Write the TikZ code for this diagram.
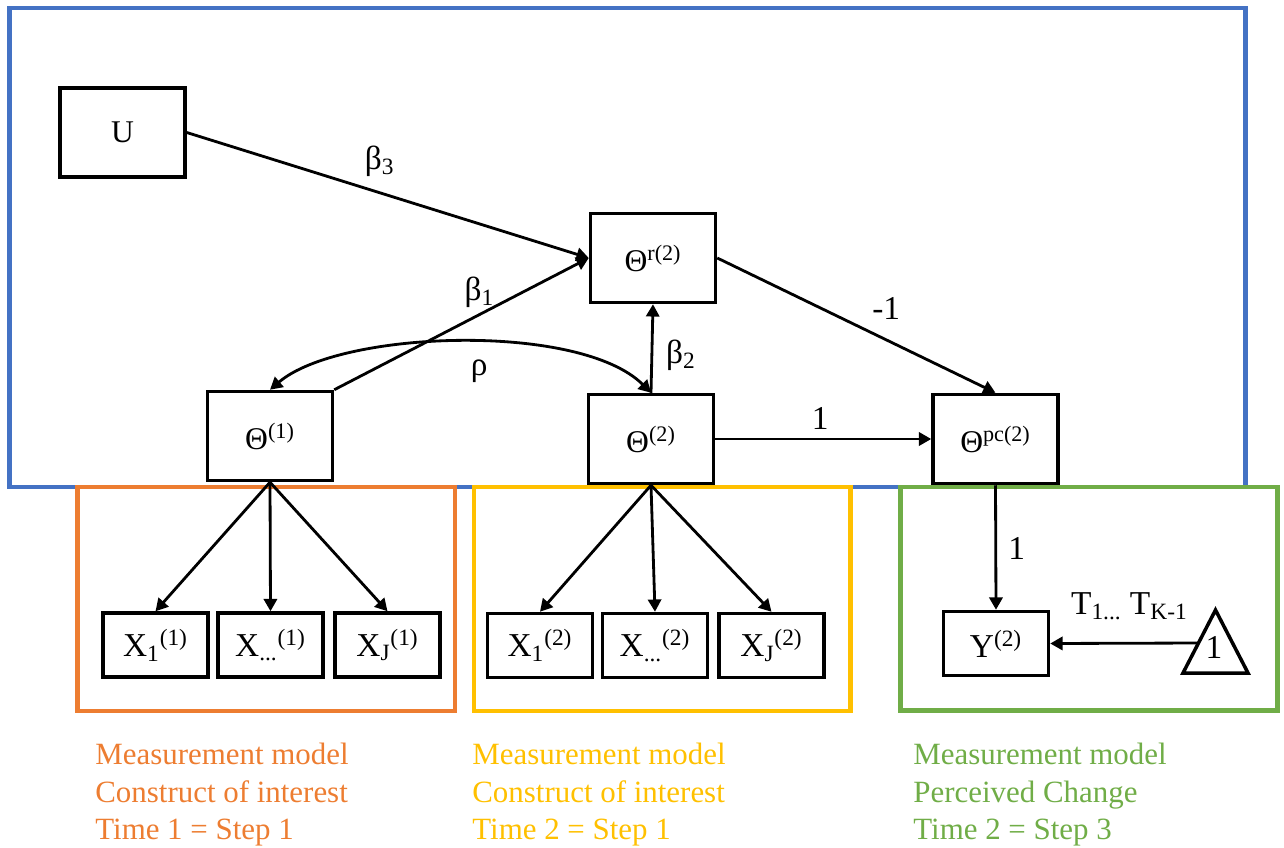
\documentclass[tikz,border=0pt]{standalone}
\usepackage{fontspec}
\setmainfont{Liberation Serif}
\usetikzlibrary{arrows.meta, positioning, calc}
\definecolor{frameblue}{HTML}{4472C4}
\definecolor{timeorange}{HTML}{ED7D31}
\definecolor{timeyellow}{HTML}{FFC000}
\definecolor{changegreen}{HTML}{70AD47}

\begin{document}
\begin{tikzpicture}[x=0.02cm, y=-0.02cm, >={Triangle[length=7pt, width=7.5pt]},
    latent/.style={draw, line width=2pt, minimum width=2.5cm, minimum height=1.78cm, inner sep=0pt, font=\rmfamily\fontsize{18}{21}\selectfont},
    item/.style={draw, line width=2pt, minimum width=2.1cm, minimum height=1.28cm, inner sep=0pt, font=\rmfamily\fontsize{19}{22}\selectfont},
    link/.style={->, line width=1.6pt},
    coef/.style={inner sep=0pt, font=\rmfamily\fontsize{19}{22}\selectfont},
    frame/.style={line width=2.8pt},
    caption/.style={anchor=north west, align=left, inner sep=0pt, font=\rmfamily\fontsize{17.6}{21.3}\selectfont}]
    \useasboundingbox (0,0) rectangle (1284,848);

    % Frames
    \draw[frame, frameblue] (9.5,8) rectangle (1245.5,487);
    \draw[frame, timeorange] (77.5,487) rectangle (455,711);
    \draw[frame, timeyellow] (474,487) rectangle (850.5,711);
    \draw[frame, changegreen] (900.5,487) rectangle (1277.5,710.5);

    % Structural model
    \node[latent] (u) at (122.5,132.5) {U};
    \node[latent] (thr) at (653,258) {Θ\textsuperscript{r(2)}};
    \node[latent] (th1) at (270,436) {Θ\textsuperscript{(1)}};
    \node[latent] (th2) at (651,439) {Θ\textsuperscript{(2)}};
    \node[latent] (thpc) at (995.5,439) {Θ\textsuperscript{pc(2)}};

    % Indicators
    \node[item] (x11) at (155.5,645) {X\textsubscript{1}\textsuperscript{(1)}};
    \node[item] (xd1) at (270.5,645) {X\textsubscript{...}\textsuperscript{(1)}};
    \node[item] (xj1) at (387.5,645) {X\textsubscript{J}\textsuperscript{(1)}};
    \node[item] (x12) at (540,645.5) {X\textsubscript{1}\textsuperscript{(2)}};
    \node[item] (xd2) at (655,645.5) {X\textsubscript{...}\textsuperscript{(2)}};
    \node[item] (xj2) at (771.5,645.5) {X\textsubscript{J}\textsuperscript{(2)}};
    \node[item] (y2) at (996,643.5) {Y\textsuperscript{(2)}};

    % Constant
    \draw[line width=2pt] (1183,673) -- (1248,673) -- (1215.5,610) -- cycle;
    \node[coef] (one) at (1214,647) {1};
    \coordinate (tri) at (1198.5,643);

    % Paths
    \draw[link] (u.east) -- node[coef, pos=0.48, shift={(0,-31)}] {β\textsubscript{3}} (thr.west);
    \draw[link] (th1.north east) -- node[coef, pos=0.57, shift={(0,-22)}] {β\textsubscript{1}} (thr.west);
    \draw[link] (th2.north) -- node[coef, pos=0.5, shift={(29,7)}] {β\textsubscript{2}} (thr.south);
    \draw[<->, line width=1.6pt] (th1.north) .. controls (340,330) and (580,322) .. node[coef, pos=0.5, shift={(19,29)}] {ρ} (th2.north);
    \draw[link] (thr.east) -- node[coef, pos=0.6, shift={(2,-30)}] {-1} (thpc.north);
    \draw[link] (th2.east) -- node[coef, pos=0.5, shift={(-3,-21)}] {1} (thpc.west);
    \draw[link] (thpc.south) -- node[coef, pos=0.5, shift={(21,1)}] {1} (y2.north);
    \draw[link] (tri) -- node[coef, pos=0.5, shift={(5,-37)}] {T\textsubscript{1...} T\textsubscript{K-1}} (y2.east);

    % Loadings
    \foreach \x in {x11, xd1, xj1} \draw[link] (th1.south) -- (\x.north);
    \foreach \x in {x12, xd2, xj2} \draw[link] (th2.south) -- (\x.north);

    % Captions
    \node[caption, timeorange] (cap1) at (95,743) {Measurement model\\Construct of interest\\Time 1 = Step 1};
    \node[caption, timeyellow] (cap2) at (472,743) {Measurement model\\Construct of interest\\Time 2 = Step 1};
    \node[caption, changegreen] (cap3) at (913,743) {Measurement model\\Perceived Change\\Time 2 = Step 3};
\end{tikzpicture}
\end{document}
